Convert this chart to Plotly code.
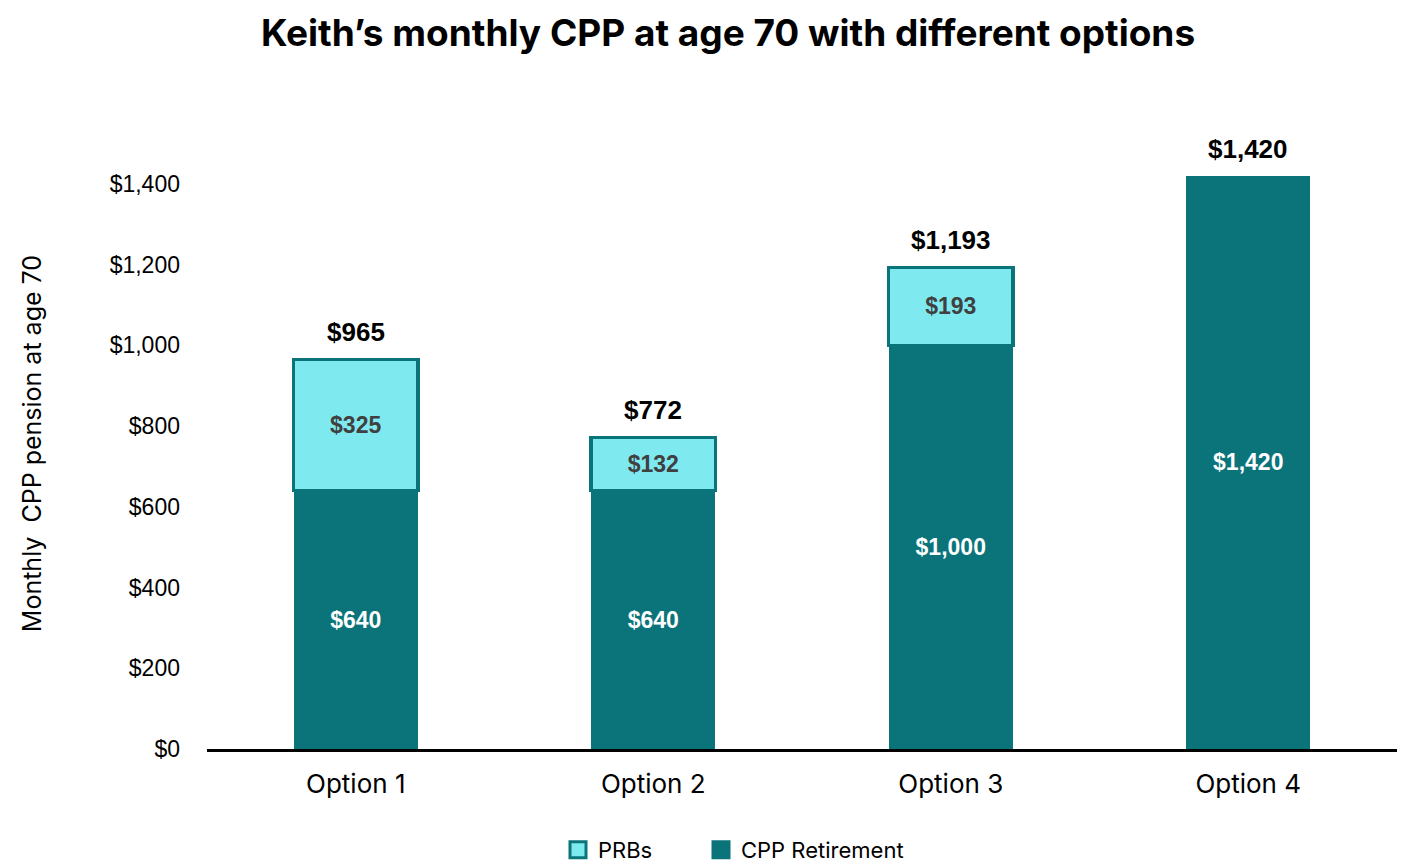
import plotly.graph_objects as go

options = ["Option 1", "Option 2", "Option 3", "Option 4"]
cpp_retirement = [640, 640, 1000, 1420]
prbs = [325, 132, 193, None]
totals = [965, 772, 1193, 1420]

teal = "#0A747A"
cyan = "#7FE9F0"
label_font = "Liberation Sans, Arial, sans-serif"
main_font = "Inter, Lato, sans-serif"

fig = go.Figure()

fig.add_trace(go.Bar(
    name="CPP Retirement",
    x=options,
    y=cpp_retirement,
    marker=dict(color=teal, line=dict(color=teal, width=0)),
    texttemplate="$%{y:,}",
    textposition="inside",
    insidetextanchor="middle",
    textangle=0,
    textfont=dict(family=label_font, size=23, color="white", weight="bold"),
    hoverinfo="skip",
    showlegend=False,
))

fig.add_trace(go.Bar(
    name="PRBs",
    x=options,
    y=prbs,
    marker=dict(color=cyan, line=dict(color=teal, width=3.5)),
    texttemplate="$%{y:,}",
    textposition="inside",
    insidetextanchor="middle",
    textangle=0,
    textfont=dict(family=label_font, size=23, color="#404040", weight="bold"),
    hoverinfo="skip",
    showlegend=False,
))

# legend entries with bigger square swatches, one legend each for spacing
fig.add_trace(go.Scatter(
    name="PRBs", x=[None], y=[None], mode="markers", legend="legend",
    marker=dict(symbol="square", size=16, color=cyan, line=dict(color=teal, width=3)),
))
fig.add_trace(go.Scatter(
    name="CPP Retirement", x=[None], y=[None], mode="markers", legend="legend2",
    marker=dict(symbol="square", size=16, color=teal, line=dict(color=teal, width=3)),
))

# total labels above each bar
for opt, tot in zip(options, totals):
    fig.add_annotation(
        x=opt, y=tot, text=f"${tot:,}", showarrow=False,
        yanchor="bottom", yshift=10,
        font=dict(family=label_font, size=26, color="black", weight="bold"),
    )

# y axis title, placed as an annotation so it can sit a bit lower
fig.add_annotation(
    text="Monthly  CPP pension at age 70",
    xref="paper", yref="paper",
    x=-0.147, y=0.472,
    xanchor="center", yanchor="middle",
    textangle=-90, showarrow=False,
    font=dict(family=main_font, size=25, color="black"),
)

legend_style = dict(
    orientation="h",
    xref="container",
    xanchor="left",
    yref="container",
    y=1 - 850 / 868,
    yanchor="middle",
    font=dict(family=main_font, size=22, color="black"),
)

fig.update_layout(
    width=1416,
    height=868,
    barmode="stack",
    bargap=0.583,
    plot_bgcolor="white",
    paper_bgcolor="white",
    margin=dict(l=207, r=19, t=103, b=119, autoexpand=False),
    title=dict(
        text="Keith’s monthly CPP at age 70 with different options",
        x=728 / 1416,
        xanchor="center",
        y=1 - 33 / 868,
        yanchor="middle",
        font=dict(family=main_font, size=37, color="black", weight="bold"),
    ),
    legend=dict(legend_style, x=558 / 1416),
    legend2=dict(legend_style, x=701 / 1416),
    showlegend=True,
)

fig.update_xaxes(
    showline=True,
    linecolor="black",
    linewidth=2.5,
    showgrid=False,
    ticks="",
    ticklabelstandoff=10,
    tickfont=dict(family=main_font, size=26, color="black"),
)

fig.update_yaxes(
    range=[0, 1600],
    tickvals=[0, 200, 400, 600, 800, 1000, 1200, 1400],
    tickformat="$,",
    showline=False,
    showgrid=False,
    zeroline=False,
    ticks="",
    ticklabelstandoff=26,
    tickfont=dict(family=label_font, size=23, color="black"),
)

# drop the default page margin so the figure sits at the window's corner
fig.write_html(
    "out.html",
    config={"displayModeBar": False},
    post_script="document.body.style.margin='0';",
)
